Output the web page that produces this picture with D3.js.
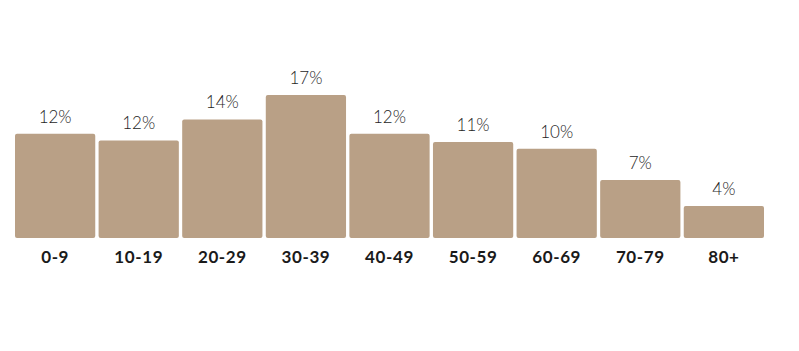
<!DOCTYPE html>
<html>
<head>
<meta charset="utf-8">
<script src="https://cdn.jsdelivr.net/npm/d3@7"></script>
<style>
  body { margin: 0; background: #fff; }
  .x-axis text { font-family: Lato, sans-serif; font-weight: 700; font-size: 17px; letter-spacing: 0.6px; fill: #1a1a1a; }
  .value-label { font-family: Lato, sans-serif; font-weight: 300; font-size: 17px; fill: #1e1e1e; }
</style>
</head>
<body>
<div id="chart"></div>
<script>
// age groups and their share (%)
const ageGroups = ["0-9", "10-19", "20-29", "30-39", "40-49", "50-59", "60-69", "70-79", "80+"];
const shares = [12.4, 11.6, 14.1, 17.0, 12.4, 11.4, 10.6, 6.9, 3.8];
const shareLabels = ["12%", "12%", "14%", "17%", "12%", "11%", "10%", "7%", "4%"];

const data = ageGroups.map((g, i) => ({ group: g, value: shares[i], label: shareLabels[i] }));

const width = 799, height = 351;
const margin = { top: 10, right: 35, bottom: 113, left: 15 };

const svg = d3.select("#chart")
    .append("svg")
    .attr("width", width)
    .attr("height", height);

const xScale = d3.scaleBand()
    .domain(ageGroups)
    .range([margin.left, width - margin.right])
    .paddingInner(0.04)
    .paddingOuter(0);

const yScale = d3.scaleLinear()
    .domain([0, 17])
    .range([height - margin.bottom, height - margin.bottom - 143]);

svg.selectAll("rect.bar")
    .data(data)
    .enter()
    .append("rect")
    .attr("class", "bar")
    .attr("x", d => xScale(d.group))
    .attr("y", d => yScale(d.value))
    .attr("width", xScale.bandwidth())
    .attr("height", d => yScale(0) - yScale(d.value))
    .attr("rx", 2)
    .attr("fill", "#b9a086");

svg.selectAll("text.value-label")
    .data(data)
    .enter()
    .append("text")
    .attr("class", "value-label")
    .attr("x", d => xScale(d.group) + xScale.bandwidth() / 2)
    .attr("y", d => yScale(d.value) - 11)
    .attr("text-anchor", "middle")
    .text(d => d.label);

const xAxis = d3.axisBottom(xScale).tickSize(0).tickPadding(13);

svg.append("g")
    .attr("class", "x-axis")
    .attr("transform", `translate(0, ${yScale(0)})`)
    .call(xAxis)
    .call(g => g.select(".domain").remove());
</script>
</body>
</html>
